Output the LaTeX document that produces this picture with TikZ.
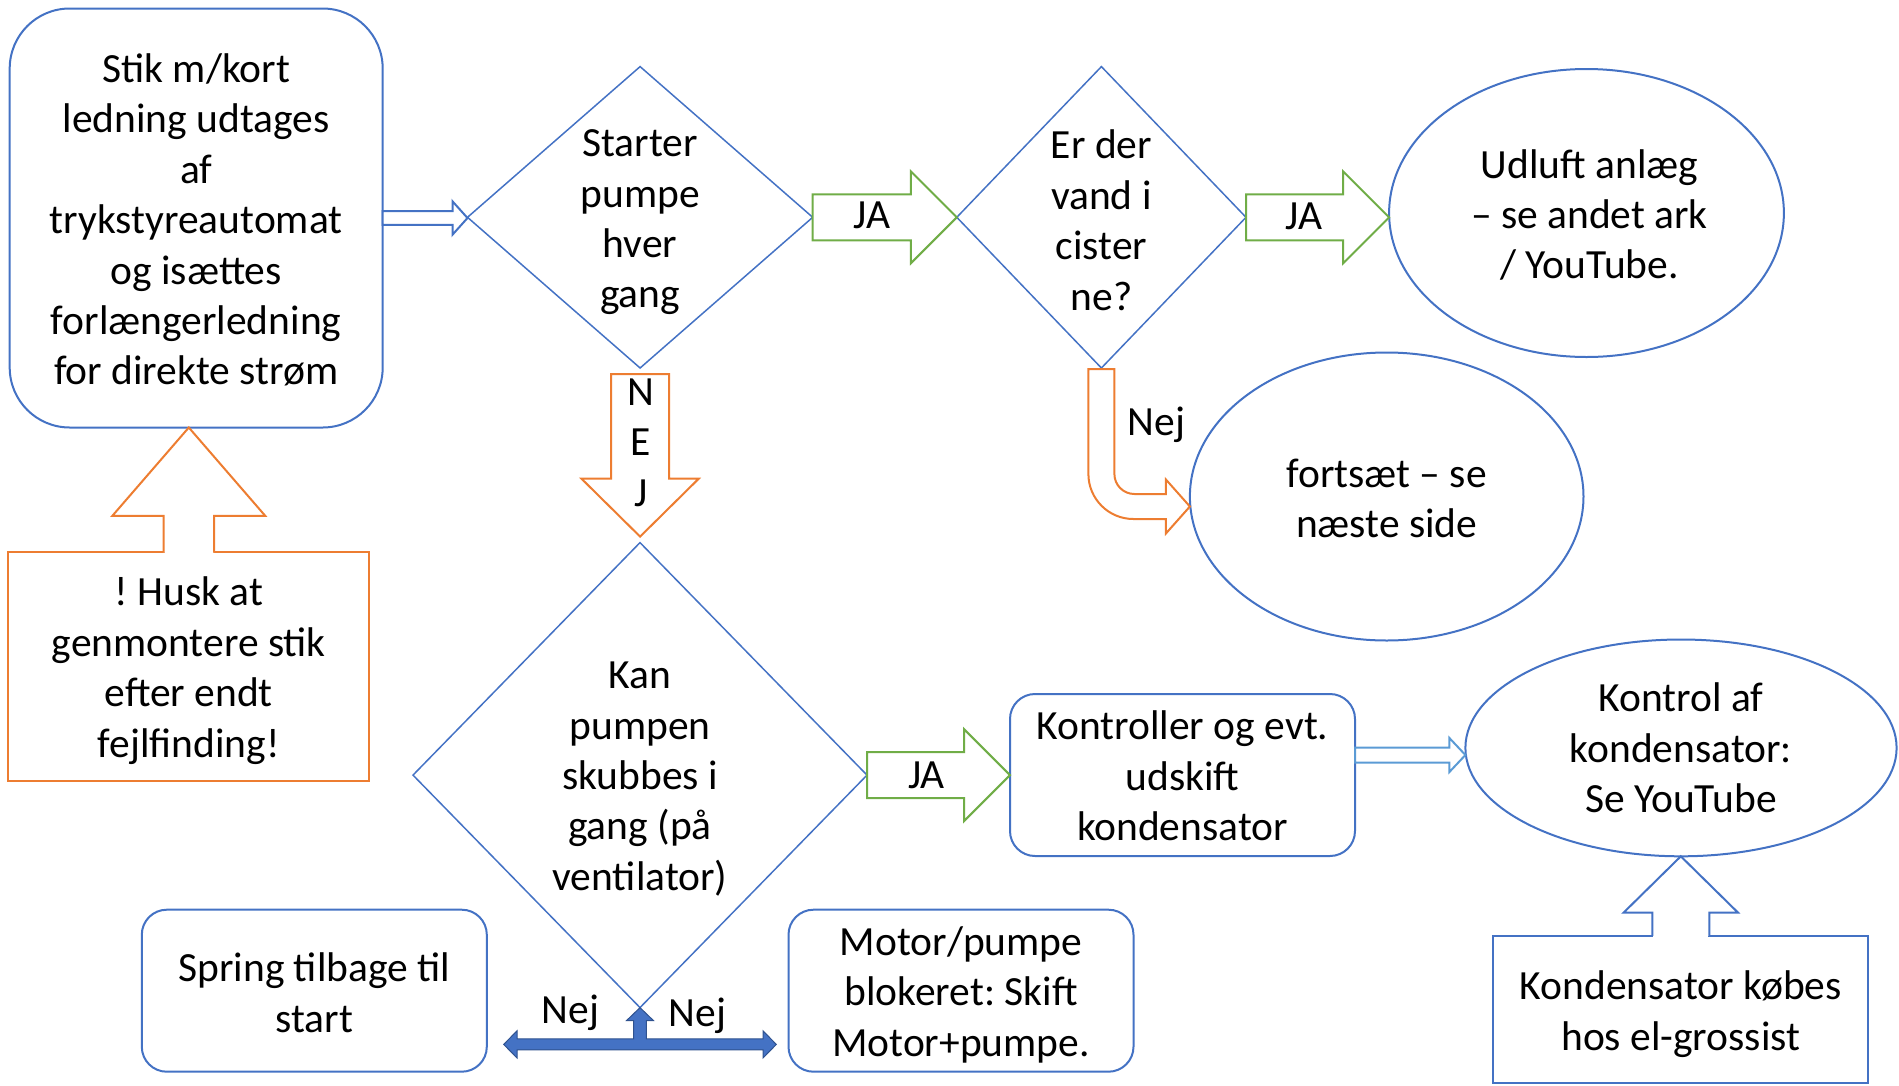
\documentclass[tikz,border=0pt]{standalone}
\usepackage{fontspec}
\setmainfont{Carlito}
\frenchspacing
\usetikzlibrary{shapes.geometric,calc}
\definecolor{cblue}{HTML}{4472C4}
\definecolor{cbluedark}{HTML}{2F528F}
\definecolor{corange}{HTML}{ED7D31}
\definecolor{cgreen}{HTML}{70AD47}
\definecolor{clight}{HTML}{5B9BD5}
% right-pointing block arrow: style, from, to, shaft half, head half, head length
\newcommand\blkR[6]{\draw[#1] let \p1=(#2), \p2=(#3) in (\x1,\y1+#4) -- (\x2-#6,\y1+#4) -- (\x2-#6,\y1+#5) -- (\x2,\y1) -- (\x2-#6,\y1-#5) -- (\x2-#6,\y1-#4) -- (\x1,\y1-#4) -- cycle;}
% down-pointing block arrow
\newcommand\blkD[6]{\draw[#1] let \p1=(#2), \p2=(#3) in (\x1-#4,\y1) -- (\x1-#4,\y2+#6) -- (\x1-#5,\y2+#6) -- (\x1,\y2) -- (\x1+#5,\y2+#6) -- (\x1+#4,\y2+#6) -- (\x1+#4,\y1) -- cycle;}
% up-pointing callout arrow (open at its base, merged with the box below)
\newcommand\callU[6]{%
  \fill[white] let \p1=(#2) in (\x1-#4+1pt,\y1-1.5pt) rectangle (\x1+#4-1pt,\y1+1.5pt);
  \draw[#1] let \p1=(#2), \p2=(#3) in (\x1-#4,\y1) -- (\x1-#4,\y2-#6) -- (\x1-#5,\y2-#6) -- (\x1,\y2) -- (\x1+#5,\y2-#6) -- (\x1+#4,\y2-#6) -- (\x1+#4,\y1);}
\begin{document}
\begin{tikzpicture}[x=1pt,y=-1pt,
  every node/.style={font=\fontsize{41.5}{50.4}\selectfont, align=center, inner sep=0pt, outer sep=0pt},
  bigbox/.style={draw=cblue, line width=2pt, rounded corners=60pt, fill=white},
  smallbox/.style={draw=cblue, line width=2pt, rounded corners=25pt, fill=white},
  orangebox/.style={draw=corange, line width=2pt, fill=white},
  bluebox/.style={draw=cblue, line width=2pt, fill=white},
  dia/.style={draw=cblue, line width=1.5pt, shape=diamond},
  ell/.style={draw=cblue, line width=2pt, shape=ellipse},
  barrow/.style={draw=cblue, line width=2pt, fill=white, line join=miter},
  garrow/.style={draw=cgreen, line width=2pt, fill=white, line join=miter},
  oarrow/.style={draw=corange, line width=2pt, fill=white, line join=miter},
  larrow/.style={draw=clight, line width=2pt, fill=white, line join=miter}]
\useasboundingbox (0,0) rectangle (1899,1085);

% shapes
\node[bigbox, minimum width=373pt, minimum height=419pt] (b1) at (196.2,218) {};
\node (tb1) at ([yshift=-2pt]b1.center)
  {Stik m/kort\\ledning udtages\\af\\trykstyreautomat\\og isættes\\forlængerledning\\for direkte strøm};
\node[orangebox, minimum width=361pt, minimum height=228.7pt] (hb) at (188.8,666.7) {};
\node (thb) at ([yshift=-4pt]hb.center) {! Husk at\\genmontere stik\\efter endt\\fejlfinding!};

\node[dia, minimum width=345.2pt, minimum height=301.4pt] (d1) at (640.1,217.3) {};
\node (t1) at ([yshift=-5pt]d1.center) {Starter\\pumpe\\hver\\gang};
\node[dia, minimum width=289.2pt, minimum height=301.4pt] (d2) at (1101.4,217.3) {};
\node (t2) at ([yshift=-3pt]d2.center) {Er der\\vand i\\cister\\ne?};
\node[dia, minimum width=454pt, minimum height=465pt] (d3) at (640,775.1) {};
\node (t3) at ([yshift=-4pt]d3.center) {Kan\\pumpen\\skubbes i\\gang (på\\ventilator)};

\node[ell, minimum width=394.8pt, minimum height=288pt] (e1) at (1586.5,213) {};
\node (te1) at ([xshift=3pt,yshift=-2pt]e1.center) {Udluft anlæg\\– se andet ark\\/ YouTube.};
\node[ell, minimum width=393.6pt, minimum height=288pt] (e2) at (1386.7,496.5) {};
\node (te2) at ([yshift=-2pt]e2.center) {fortsæt – se\\næste side};
\node[ell, minimum width=431.2pt, minimum height=216.8pt] (e3) at (1681,747.9) {};
\node (te3) at (e3) {Kontrol af\\kondensator:\\Se YouTube};

\node[smallbox, minimum width=345pt, minimum height=162pt] (k1) at (1182.5,775) {};
\node (tk1) at ([yshift=-1pt]k1.center) {Kontroller og evt.\\udskift\\kondensator};
\node[smallbox, minimum width=345pt, minimum height=162pt] (sp) at (314.3,990.7) {};
\node (tsp) at ([yshift=-2pt]sp.center) {Spring tilbage til\\start};
\node[smallbox, minimum width=345pt, minimum height=162pt] (mo) at (961,990.7) {};
\node (tmo) at ([yshift=-4pt]mo.center) {Motor/pumpe\\blokeret: Skift\\Motor+pumpe.};
\node[bluebox, minimum width=375pt, minimum height=146.7pt] (kb) at (1680.8,1009.3) {};
\node (tkb) at ([yshift=-5pt]kb.center) {Kondensator købes\\hos el-grossist};

% connectors
\blkR{barrow}{b1.east}{d1.west}{6.8pt}{16.7pt}{15pt}
\blkR{garrow}{d1.east}{d2.west}{23pt}{46pt}{46pt}
\node (ja1) at (872,215.6) {JA};
\blkR{garrow}{d2.east}{e1.west}{23pt}{46pt}{46pt}
\node (ja2) at (1304,216.8) {JA};
\blkR{garrow}{d3.east}{k1.west}{23pt}{46pt}{46pt}
\node (ja3) at (926.5,775) {JA};
\blkR{larrow}{[yshift=20pt]k1.east}{e3.west}{7.5pt}{17pt}{16pt}

\blkD{oarrow}{[yshift=-6pt]d1.south}{[yshift=6pt]d3.north}{29pt}{58.7pt}{58pt}
\node (nej1) at (640.7,442.5) {N\\E\\J};

\callU{oarrow}{hb.north}{b1.south}{25.3pt}{76.5pt}{88.4pt}
\callU{barrow}{kb.north}{e3.south}{28.5pt}{57.2pt}{56.3pt}

% bent "Nej" arrow
\draw[oarrow] let \p1=([yshift=-1pt]d2.south), \p2=([yshift=-10pt]e2.west) in
  (\x1-13pt,\y1) -- (\x1+13pt,\y1) -- (\x1+13pt,\y2+32.5pt)
  .. controls (\x1+13pt,\y2+21.45pt) and (\x1+21.95pt,\y2+12.5pt) .. (\x1+33pt,\y2+12.5pt)
  -- (\x2-24pt,\y2+12.5pt) -- (\x2-24pt,\y2+27pt) -- (\x2,\y2) -- (\x2-24pt,\y2-27pt)
  -- (\x2-24pt,\y2-12.5pt) -- (\x1+32pt,\y2-12.5pt)
  .. controls (\x1+7.15pt,\y2-12.5pt) and (\x1-13pt,\y2+7.65pt) .. (\x1-13pt,\y2+32.5pt)
  -- cycle;
\node (nej2) at (1156.6,425) {Nej};

% bottom double arrow
\filldraw[fill=cblue, draw=cbluedark, line width=1pt, line join=miter] let \p1=(d3.south) in
  (\x1,\y1) -- (\x1+13.5pt,\y1-13pt) -- (\x1+6.3pt,\y1-13pt) -- (\x1+6.3pt,\y1-31.3pt)
  -- (\x1+123pt,\y1-31.3pt) -- (\x1+123pt,\y1-23.2pt) -- (\x1+136.3pt,\y1-36.8pt)
  -- (\x1+123pt,\y1-50.4pt) -- (\x1+123pt,\y1-42.3pt) -- (\x1-123pt,\y1-42.3pt)
  -- (\x1-123pt,\y1-50.4pt) -- (\x1-136.3pt,\y1-36.8pt) -- (\x1-123pt,\y1-23.2pt)
  -- (\x1-123pt,\y1-31.3pt) -- (\x1-6.3pt,\y1-31.3pt) -- (\x1-6.3pt,\y1-13pt)
  -- (\x1-13.5pt,\y1-13pt) -- cycle;
\node (nej3) at (570.4,1013) {Nej};
\node (nej4) at (697.6,1015.7) {Nej};
\end{tikzpicture}
\end{document}
